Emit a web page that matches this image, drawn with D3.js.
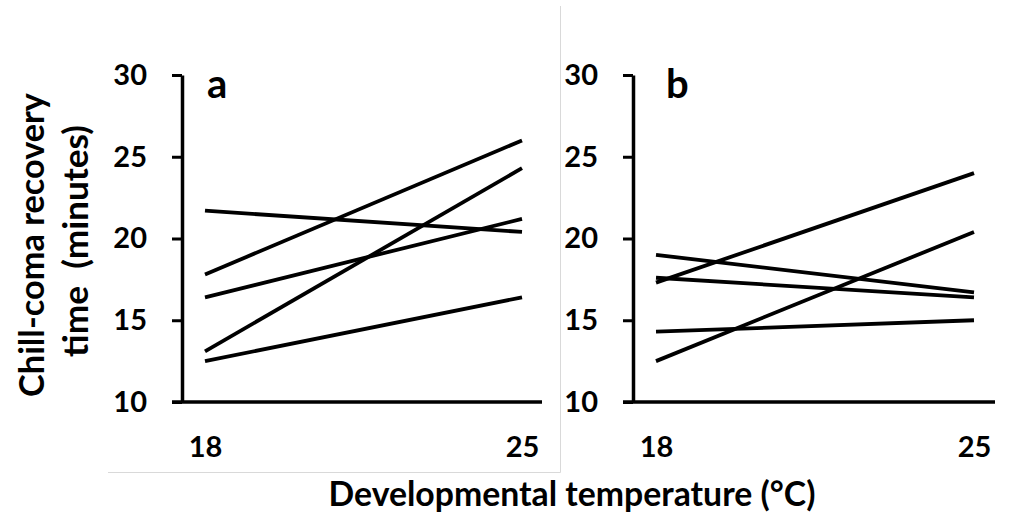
<!DOCTYPE html>
<html>
<head>
<meta charset="utf-8">
<script src="https://cdn.jsdelivr.net/npm/d3@7"></script>
<style>
  html, body { margin: 0; padding: 0; background: #fff; }
  svg { display: block; }
  text { font-family: Lato, "Open Sans", sans-serif; fill: #000; }
</style>
</head>
<body>
<svg id="chart" width="1011" height="521"></svg>
<script>
// ---- data ----
const temps = [18, 25];
const yTicks = [10, 15, 20, 25, 30];
const panelLabels = ["a", "b"];
// panel a: recovery times at 18 and 25 °C
const panelA = [
  [21.7, 20.4],
  [17.8, 26.0],
  [16.4, 21.2],
  [13.1, 24.3],
  [12.5, 16.4]
];
// panel b
const panelB = [
  [17.3, 24.0],
  [19.0, 16.7],
  [17.6, 16.4],
  [14.3, 15.0],
  [12.5, 20.4]
];
const yTitle = ["Chill-coma recovery", "time  (minutes)"];
const xTitle = "Developmental temperature (°C)";

const svg = d3.select("#chart");

// gray frame of panel a
svg.append("path")
  .attr("d", "M560.5,6 V472.5 H108")
  .attr("fill", "none").attr("stroke", "#d9d9d9").attr("stroke-width", 1);

const panels = [
  { data: panelA, label: panelLabels[0], axisX: 182, x0: 205, x1: 522, axEnd: 542, lblX: 207, lblY: 98 },
  { data: panelB, label: panelLabels[1], axisX: 633, x0: 656, x1: 974, axEnd: 995, lblX: 666, lblY: 98 }
];

const y = d3.scaleLinear().domain([10, 30]).range([402, 75]);

panels.forEach(p => {
  const g = svg.append("g");
  const x = d3.scaleLinear().domain(temps).range([p.x0, p.x1]);

  // y axis
  const ya = g.append("g").attr("transform", `translate(${p.axisX},0)`)
    .call(d3.axisLeft(y).tickValues(yTicks).tickSize(10).tickSizeOuter(0).tickPadding(25).tickFormat(d3.format("d")));
  ya.select(".domain").attr("stroke", "#000").attr("stroke-width", 3.5);
  ya.selectAll(".tick line").attr("stroke", "#000").attr("stroke-width", 3);
  ya.selectAll(".tick text").attr("font-size", 29).attr("font-family", "Lato, sans-serif").attr("font-weight", 700).attr("fill", "#000");

  // x axis line
  g.append("line")
    .attr("x1", p.axisX - 10).attr("x2", p.axEnd)
    .attr("y1", y(10)).attr("y2", y(10))
    .attr("stroke", "#000").attr("stroke-width", 3.5);

  // x tick labels
  const xa = g.append("g").attr("transform", `translate(0,${y(10)})`)
    .call(d3.axisBottom(x).tickValues(temps).tickSize(0).tickPadding(34).tickFormat(d3.format("d")));
  xa.select(".domain").remove();
  xa.selectAll(".tick text").attr("font-size", 29).attr("font-family", "Lato, sans-serif").attr("font-weight", 700).attr("fill", "#000");

  // lines
  const line = d3.line().x((d, i) => x(temps[i])).y(d => y(d));
  g.selectAll("path.series").data(p.data).enter().append("path")
    .attr("class", "series")
    .attr("d", line)
    .attr("fill", "none").attr("stroke", "#000").attr("stroke-width", 3.8);

  // panel letter
  g.append("text").attr("x", p.lblX).attr("y", p.lblY)
    .attr("font-size", 40).attr("font-weight", 700).text(p.label);
});

// fit text to a target width
function fit(sel, target) {
  const base = 20;
  sel.attr("font-size", base);
  const w = sel.node().getComputedTextLength();
  sel.attr("font-size", base * target / w);
}

// y title (rotated)
const yt1 = svg.append("text").attr("transform", "translate(44,245) rotate(-90)")
  .attr("text-anchor", "middle").attr("font-weight", 700).text(yTitle[0]);
fit(yt1, 304);
const yt2 = svg.append("text").attr("transform", "translate(88,241) rotate(-90)")
  .attr("text-anchor", "middle").attr("font-weight", 700).attr("xml:space", "preserve").style("white-space", "pre").text(yTitle[1]);
fit(yt2, 232);

// x title
const xt = svg.append("text").attr("x", 572).attr("y", 506)
  .attr("text-anchor", "middle").attr("font-weight", 700).text(xTitle);
fit(xt, 487);
</script>
</body>
</html>
